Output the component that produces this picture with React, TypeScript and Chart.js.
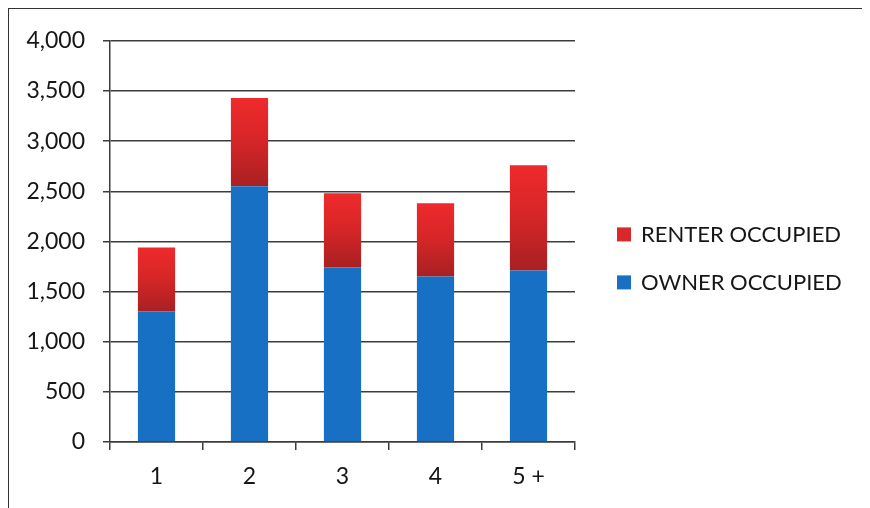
import React, { useEffect, useRef } from "react";
import { Chart, registerables } from "chart.js";

Chart.register(...registerables);

const categories = ["1", "2", "3", "4", "5 +"];
const ownerOccupied = [1300, 2550, 1740, 1650, 1710];
const renterOccupied = [640, 880, 740, 730, 1050];
const seriesLabels = ["OWNER OCCUPIED", "RENTER OCCUPIED"];
const yMin = 0;
const yMax = 4000;
const yStep = 500;

const OWNER_COLOR = "#1770c4";
const RENTER_TOP = "#ee2a2c";
const RENTER_BOTTOM = "#a92022";
const RENTER_LEGEND = "#d8282a";
const TEXT = "#161616";
const GRID = "#3c3c3c";
const FONT = "Lato, 'Open Sans', sans-serif";

const legendColors = [OWNER_COLOR, RENTER_LEGEND];

// Side legend drawn in the space reserved on the right of the plot area
const sideLegend = {
  id: "sideLegend",
  afterDraw(chart: any) {
    const { ctx, chartArea } = chart;
    const mid = (chartArea.top + chartArea.bottom) / 2;
    const x = chartArea.right + 42;
    const order = chart.data.datasets.map((_: any, i: number) => i).reverse();
    ctx.save();
    ctx.font = `22px ${FONT}`;
    ctx.textBaseline = "middle";
    ctx.textAlign = "left";
    order.forEach((di: number, k: number) => {
      const cy = mid - 7 + k * 48;
      ctx.fillStyle = legendColors[di];
      ctx.fillRect(x, cy - 7, 14, 14);
      ctx.fillStyle = TEXT;
      ctx.fillText(chart.data.datasets[di].label, x + 24, cy + 1);
    });
    ctx.restore();
  },
};

export default function App() {
  const canvasRef = useRef<HTMLCanvasElement | null>(null);

  useEffect(() => {
    document.body.style.overflow = "hidden";
    document.documentElement.style.overflow = "hidden";
    const canvas = canvasRef.current;
    if (!canvas) return;

    const renterFill = (ctx: any) => {
      const chart = ctx.chart;
      const y = chart.scales && chart.scales.y;
      const i = ctx.dataIndex;
      if (!y || i === undefined || !chart.chartArea) return RENTER_LEGEND;
      const top = y.getPixelForValue(ownerOccupied[i] + renterOccupied[i]);
      const bot = y.getPixelForValue(ownerOccupied[i]);
      if (!isFinite(top) || !isFinite(bot) || top === bot) return RENTER_LEGEND;
      const g = chart.ctx.createLinearGradient(0, top, 0, bot);
      g.addColorStop(0, RENTER_TOP);
      g.addColorStop(0.45, "#d82628");
      g.addColorStop(1, RENTER_BOTTOM);
      return g;
    };

    const chart = new Chart(canvas, {
      type: "bar",
      data: {
        labels: categories,
        datasets: [
          {
            label: seriesLabels[0],
            data: ownerOccupied,
            backgroundColor: OWNER_COLOR,
            borderWidth: 0,
            barPercentage: 0.4,
            categoryPercentage: 1,
          },
          {
            label: seriesLabels[1],
            data: renterOccupied,
            backgroundColor: renterFill,
            borderWidth: 0,
            barPercentage: 0.4,
            categoryPercentage: 1,
          },
        ],
      },
      options: {
        animation: false,
        responsive: true,
        maintainAspectRatio: false,
        layout: { padding: { top: 29, left: 16, bottom: 32, right: 291 } },
        plugins: {
          tooltip: { enabled: false },
          legend: { display: false },
        },
        scales: {
          x: {
            stacked: true,
            grid: {
              offset: true,
              drawOnChartArea: false,
              drawTicks: true,
              tickLength: 8,
              color: GRID,
              lineWidth: 1.5,
            },
            border: { display: true, color: GRID, width: 1.5 },
            ticks: { color: TEXT, font: { size: 23, family: FONT }, padding: 13 },
            afterFit: (s: any) => {
              s.height = 46;
            },
          },
          y: {
            stacked: true,
            min: yMin,
            max: yMax,
            grid: {
              color: GRID,
              lineWidth: 1.5,
              drawTicks: true,
              tickLength: 7,
            },
            border: { display: true, color: GRID, width: 1.5 },
            ticks: {
              stepSize: yStep,
              color: TEXT,
              padding: 18,
              font: { size: 23, family: FONT },
              callback: (v: any) => Number(v).toLocaleString("en-US"),
            },
            afterFit: (s: any) => {
              s.width = 85;
            },
          },
        },
      },
      plugins: [sideLegend],
    } as any);

    return () => {
      chart.destroy();
    };
  }, []);

  return (
    <div
      style={{
        width: 857,
        height: 511,
        borderTop: "1px solid #333",
        borderLeft: "1px solid #333",
        borderRight: "1px solid #333",
        background: "#fff",
      }}
    >
      <div style={{ position: "relative", width: 857, height: 511 }}>
        <canvas ref={canvasRef} />
      </div>
    </div>
  );
}
